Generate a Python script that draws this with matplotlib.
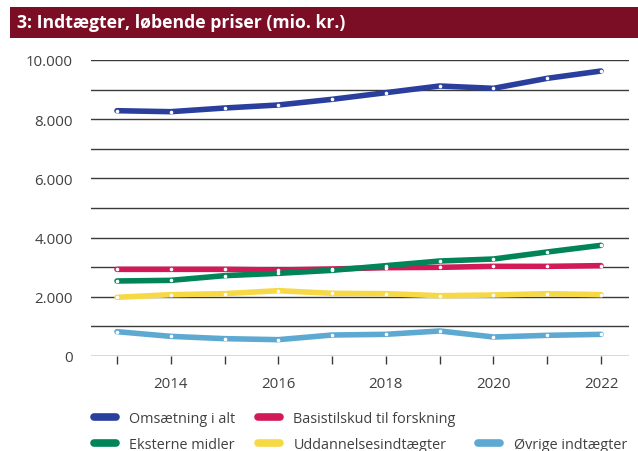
import matplotlib
matplotlib.use("Agg")
import matplotlib.pyplot as plt
from matplotlib.lines import Line2D
from matplotlib.patches import Rectangle

years = [2013, 2014, 2015, 2016, 2017, 2018, 2019, 2020, 2021, 2022]
omsaetning = [8287, 8254, 8378, 8480, 8672, 8896, 9122, 9043, 9381, 9628]
basistilskud = [2928, 2928, 2928, 2905, 2939, 2984, 2995, 3029, 3029, 3052]
eksterne = [2534, 2556, 2714, 2793, 2894, 3052, 3209, 3277, 3514, 3739]
uddannelse = [1982, 2072, 2106, 2207, 2117, 2106, 2038, 2061, 2106, 2072]
oevrige = [822, 664, 586, 552, 709, 732, 845, 642, 698, 732]

series_names = ["Omsætning i alt", "Basistilskud til forskning", "Eksterne midler",
                "Uddannelsesindtægter", "Øvrige indtægter"]
series_values = [omsaetning, basistilskud, eksterne, uddannelse, oevrige]
colors = ["#2a3f9d", "#d21a57", "#008458", "#f7d845", "#5ea9d2"]

title = "3: Indtægter, løbende priser (mio. kr.)"
yticks = [0, 2000, 4000, 6000, 8000, 10000]
ytick_labels = ["0", "2.000", "4.000", "6.000", "8.000", "10.000"]
xticks_labeled = [2014, 2016, 2018, 2020, 2022]

plt.rcParams['font.family'] = ['Open Sans', 'DejaVu Sans']

fig = plt.figure(figsize=(6.38, 4.52), dpi=100)

# title bar
fig.patches.append(Rectangle((10/638, 1-39/452), 1-10/638, 31/452, transform=fig.transFigure,
                             facecolor="#7b0d25", edgecolor="none"))
fig.text(17/638, 1-23.5/452, title, color="white", fontsize=12.7, fontweight="bold",
         va="center", ha="left")

ax = fig.add_axes([91/638, 1-357/452, (629-91)/638, (357-61)/452])
for s in ax.spines.values():
    s.set_visible(False)

for v in range(0, 10001, 1000):
    ax.axhline(v, color="#3a3a3a", lw=1.0, zorder=1)

handles = []
for name, vals, c in zip(series_names, series_values, colors):
    ax.plot(years, vals, color=c, lw=4, solid_capstyle="round", solid_joinstyle="round", zorder=3)
    ax.plot(years, vals, ls="none", marker="o", ms=2.6, mfc="white", mec="none", zorder=4)
    handles.append(Line2D([], [], color=c, lw=5.5, solid_capstyle="round"))

ax.set_xlim(2012.517, 2022.52)
ax.set_ylim(0, 10000)
ax.set_yticks(yticks)
ax.set_yticklabels(ytick_labels)
ax.set_xticks(years)
ax.set_xticklabels([str(y) if y in xticks_labeled else "" for y in years])
ax.tick_params(axis="y", length=0, pad=13, labelsize=10.8, labelcolor="#404040")
ax.tick_params(axis="x", length=6, width=1, color="#3a3a3a", direction="out", pad=8.5,
               labelsize=10.8, labelcolor="#404040")

blank = Line2D([], [], color="none")
order_h = [handles[0], handles[2], handles[1], handles[3], blank, handles[4]]
order_l = [series_names[0], series_names[2], series_names[1], series_names[3], "", series_names[4]]
fig.legend(order_h, order_l, ncol=3, loc="upper left", bbox_to_anchor=(94/638, 1-412/452),
           frameon=False, fontsize=10.4, labelcolor="#404040", handlelength=1.5,
           handletextpad=0.95, columnspacing=1.55, labelspacing=0.78, borderaxespad=0,
           borderpad=0)

fig.savefig("out.png", dpi=100)
